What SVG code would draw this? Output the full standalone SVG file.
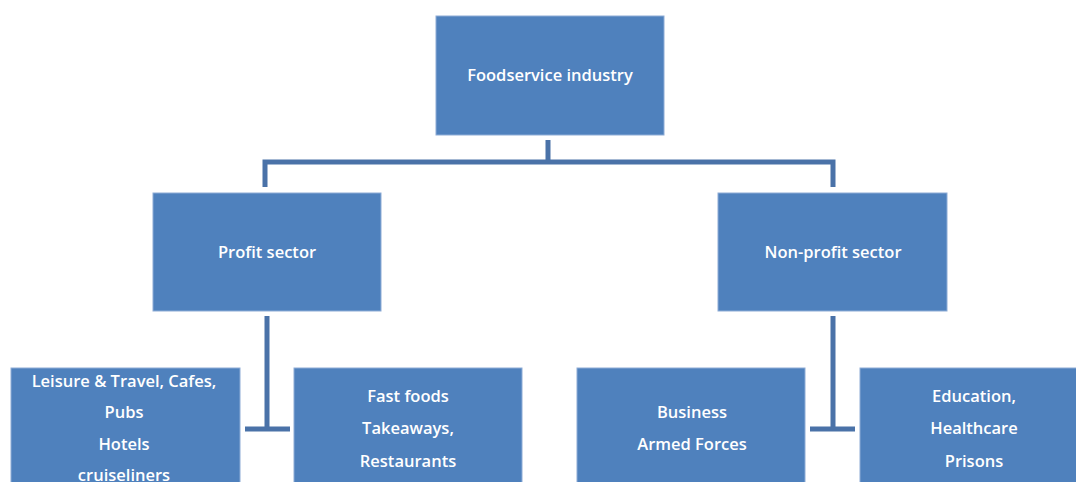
<svg xmlns="http://www.w3.org/2000/svg" width="1076" height="482" viewBox="0 0 1076 482">
  <style>
    .box { fill: #4F81BD; stroke: #8EACD6; stroke-width: 1; }
    .lbl { fill: #FFFFFF; font-family: "Open Sans", "Liberation Sans", sans-serif; font-size: 16.5px; font-weight: 600; text-anchor: middle; dominant-baseline: central; }
    .link { fill: none; stroke: #4A72A8; stroke-width: 5; }
  </style>
  <rect width="1076" height="482" fill="#FFFFFF"/>

  <g id="connectors">
    <path class="link" d="M548 140 V162 M265 187 V162 H833 V187"/>
    <path class="link" d="M267 316 V429 M245 429 H290"/>
    <path class="link" d="M833 316 V429 M810 429 H855"/>
  </g>

  <g id="foodservice">
    <rect class="box" x="436" y="16" width="228" height="119"/>
    <text class="lbl" x="550" y="74">Foodservice industry</text>
  </g>

  <g id="profit">
    <rect class="box" x="153" y="193" width="228" height="118"/>
    <text class="lbl" x="267" y="251">Profit sector</text>
  </g>

  <g id="nonprofit">
    <rect class="box" x="718" y="193" width="229" height="118"/>
    <text class="lbl" x="833" y="251">Non-profit sector</text>
  </g>

  <g id="leisure">
    <rect class="box" x="11" y="368" width="229" height="130"/>
    <text class="lbl" x="124" y="380">Leisure &amp; Travel, Cafes,</text>
    <text class="lbl" x="124" y="411">Pubs</text>
    <text class="lbl" x="124" y="443">Hotels</text>
    <text class="lbl" x="124" y="474">cruiseliners</text>
  </g>

  <g id="fastfoods">
    <rect class="box" x="294" y="368" width="228" height="130"/>
    <text class="lbl" x="408" y="395">Fast foods</text>
    <text class="lbl" x="408" y="427">Takeaways,</text>
    <text class="lbl" x="408" y="460">Restaurants</text>
  </g>

  <g id="business">
    <rect class="box" x="577" y="368" width="228" height="130"/>
    <text class="lbl" x="692" y="411">Business</text>
    <text class="lbl" x="692" y="443">Armed Forces</text>
  </g>

  <g id="education">
    <rect class="box" x="860" y="368" width="228" height="130"/>
    <text class="lbl" x="974" y="395">Education,</text>
    <text class="lbl" x="974" y="427">Healthcare</text>
    <text class="lbl" x="974" y="460">Prisons</text>
  </g>
</svg>
